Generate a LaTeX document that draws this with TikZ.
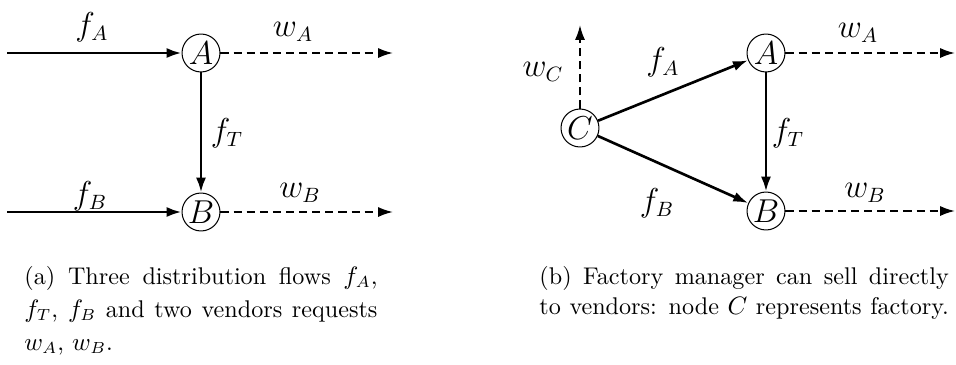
\documentclass[tikz,border=0pt]{standalone}
\usetikzlibrary{arrows.meta}
\begin{document}
\begin{tikzpicture}[x=0.4348pt,y=-0.4348pt,
  vert/.style={circle,draw,line width=0.45pt,inner sep=0pt,minimum size=16.5pt,font=\fontsize{13.5}{15}\selectfont},
  flow/.style={line width=1.15pt,-{Latex[length=6.5pt,width=4.4pt]}},
  req/.style={line width=0.8pt,dash pattern=on 3.5pt off 2.2pt,-{Latex[length=6.5pt,width=4.4pt]}},
  lab/.style={inner sep=0pt,font=\fontsize{13.5}{15}\selectfont},
  captext/.style={inner sep=0pt,anchor=base west,font=\fontsize{10.5}{12.6}\selectfont}]
\useasboundingbox (0,0) rectangle (956,365);
% ---------- (a)
\node[vert] (A1) at (201,53) {$A$};
\node[vert] (B1) at (201,212) {$B$};
\coordinate (inA1) at (7,53);
\coordinate (inB1) at (7,212);
\coordinate (outA1) at (393,53);
\coordinate (outB1) at (393,212);
\draw[flow] (inA1) -- (A1);
\draw[flow] (inB1) -- (B1);
\draw[flow] (A1) -- (B1);
\draw[req] (A1) -- (outA1);
\draw[req] (B1) -- (outB1);
\node[lab] (lfA1) at (92,27) {$f_A$};
\node[lab] (lwA1) at (293,32) {$w_A$};
\node[lab] (lfT1) at (227,133) {$f_T$};
\node[lab] (lfB1) at (90,196) {$f_B$};
\node[lab] (lwB1) at (300,193) {$w_B$};
% ---------- (b)
\node[vert] (C2) at (580,128) {$C$};
\node[vert] (A2) at (766,53) {$A$};
\node[vert] (B2) at (766,211) {$B$};
\coordinate (outC2) at (580,25);
\coordinate (outA2) at (955,53);
\coordinate (outB2) at (955,211);
\draw[flow] (C2) -- (A2);
\draw[flow] (C2) -- (B2);
\draw[flow] (A2) -- (B2);
\draw[req] (C2) -- (outC2);
\draw[req] (A2) -- (outA2);
\draw[req] (B2) -- (outB2);
\node[lab] (lwC2) at (543,72) {$w_C$};
\node[lab] (lfA2) at (663,62) {$f_A$};
\node[lab] (lfB2) at (657,203) {$f_B$};
\node[lab] (lfT2) at (788,133) {$f_T$};
\node[lab] (lwA2) at (858,33) {$w_A$};
\node[lab] (lwB2) at (865,193) {$w_B$};
% ---------- captions
\node[captext] (ca1) at (24,284) {\makebox[153.5pt][s]{(a) Three distribution flows $f_A$,}};
\node[captext] (ca2) at (24,317) {\makebox[153.5pt][s]{$f_T$, $f_B$ and two vendors requests}};
\node[captext] (ca3) at (24,350) {$w_A$, $w_B$.};
\node[captext] (cb1) at (539,284) {\makebox[178pt][s]{(b) Factory manager can sell directly}};
\node[captext] (cb2) at (539,314) {\makebox[178pt][s]{to vendors: node $C$ represents factory.}};
\end{tikzpicture}
\end{document}
